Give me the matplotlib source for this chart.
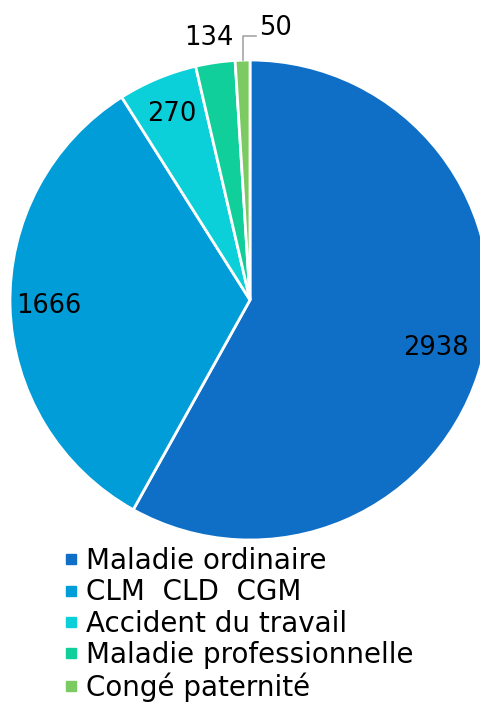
import numpy as np
import matplotlib
matplotlib.use('Agg')
import matplotlib.pyplot as plt
from matplotlib.lines import Line2D

# data
categories = ['Maladie ordinaire', 'CLM  CLD  CGM', 'Accident du travail',
              'Maladie professionnelle', 'Congé paternité']
values = [2938, 1666, 270, 134, 50]
colors = ['#0F6FC6', '#009DD9', '#0BD0D9', '#10CF9B', '#7CCA62']

plt.rcParams['font.family'] = ['DejaVu Sans']

W, H = 480, 704
fig = plt.figure(figsize=(W / 100, H / 100), dpi=100, facecolor='w')
ax = fig.add_axes([0, 0, 1, 1])

# pie centre (250, 300) px, radius 240 px
cx, cy, R = 250, 300, 240
ax.axis('off')

wedges, _ = ax.pie(values, colors=colors, startangle=90, counterclock=False,
                   radius=1, wedgeprops=dict(edgecolor='w', linewidth=2))
ax.set_xlim(-cx / R, (W - cx) / R)
ax.set_ylim(-(H - cy) / R, cy / R)
ax.set_aspect('auto')

# labels inside for the big slices
for w, v in zip(wedges[:3], values[:3]):
    ang = np.deg2rad((w.theta1 + w.theta2) / 2)
    r = 0.8 if v == values[0] else 0.84
    ax.text(r * np.cos(ang), r * np.sin(ang), str(v), ha='center', va='center',
            fontsize=18.5, color='black')

# small slices: labels outside
w = wedges[3]
ang = np.deg2rad((w.theta1 + w.theta2) / 2)
ax.text(1.08 * np.cos(ang) - 0.015, 1.09, str(values[3]), ha='center', va='center',
        fontsize=18.5)

w = wedges[4]
ang = np.deg2rad((w.theta1 + w.theta2) / 2)
x0, y0 = np.cos(ang), np.sin(ang)
ax.plot([x0, x0, x0 + 0.055], [y0, 1.1, 1.1], color='#A6A6A6', lw=1.2)
ax.text(x0 + 0.07, 1.135, str(values[4]), ha='left', va='center', fontsize=18.5)

handles = [Line2D([], [], marker='s', linestyle='none', markersize=7,
                  markerfacecolor=c, markeredgecolor=c) for c in colors]
fig.legend(handles, categories, loc='upper left', bbox_to_anchor=(64 / W, 1 - 547 / H),
           frameon=False, fontsize=20, handlelength=0.5, handletextpad=0.3,
           labelspacing=0.12, borderpad=0, borderaxespad=0)

fig.savefig('out.png', dpi=100, facecolor='w')
